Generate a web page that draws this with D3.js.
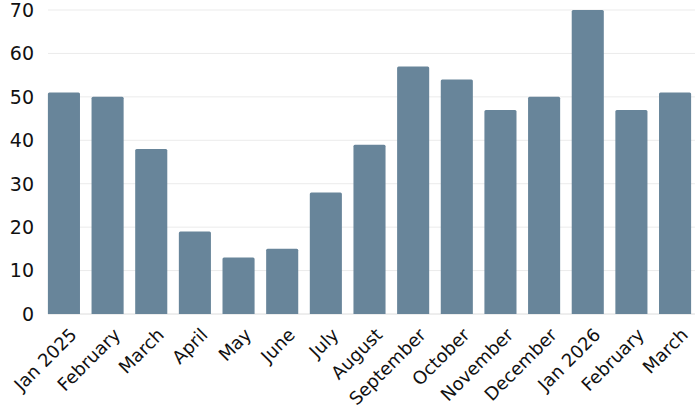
<!DOCTYPE html>
<html><head><meta charset="utf-8">
<script src="https://cdn.jsdelivr.net/npm/d3@7"></script>
<style>body{margin:0;background:#fff}svg{display:block}</style>
</head><body><svg id="c" width="695" height="420"></svg>
<script>
const categories = ["Jan 2025","February","March","April","May","June","July","August","September","October","November","December","Jan 2026","February","March"];
const values = [51,50,38,19,13,15,28,39,57,54,47,50,70,47,51];
const yTicks = [0,10,20,30,40,50,60,70];

const svg = d3.select("#c");
const font = "DejaVu Sans";
const x = d3.scaleBand().domain(d3.range(categories.length)).range([42,697]).paddingInner(0.265).paddingOuter(0.135);
const y = d3.scaleLinear().domain([0,70]).range([314,10]);

svg.append("g").selectAll("line").data(yTicks).join("line")
  .attr("x1",48).attr("x2",695).attr("y1",d=>y(d)).attr("y2",d=>y(d))
  .attr("stroke",d=>d===0?"#dcdcdc":"#ebebeb").attr("stroke-width",1);

svg.append("g").selectAll("text").data(yTicks).join("text")
  .attr("x",34).attr("y",d=>y(d)).attr("dy","0.36em").attr("text-anchor","end")
  .attr("font-family",font).attr("font-size",19).attr("fill","#111").text(d=>d);

svg.append("g").selectAll("path").data(values).join("path")
  .attr("fill","#68859a")
  .attr("d",(d,i)=>{const x0=x(i),w=x.bandwidth(),y0=y(d),y1=y(0),r=1.5;
    return `M${x0},${y1}V${y0+r}Q${x0},${y0} ${x0+r},${y0}H${x0+w-r}Q${x0+w},${y0} ${x0+w},${y0+r}V${y1}Z`;});

svg.append("g").selectAll("text").data(categories).join("text")
  .attr("transform",(d,i)=>`translate(${x(i)+x.bandwidth()/2+5},${327}) rotate(-45)`)
  .attr("text-anchor","end").attr("dy","0.7em")
  .attr("font-family",font).attr("font-size",18).attr("fill","#111").text(d=>d);
</script></body></html>
